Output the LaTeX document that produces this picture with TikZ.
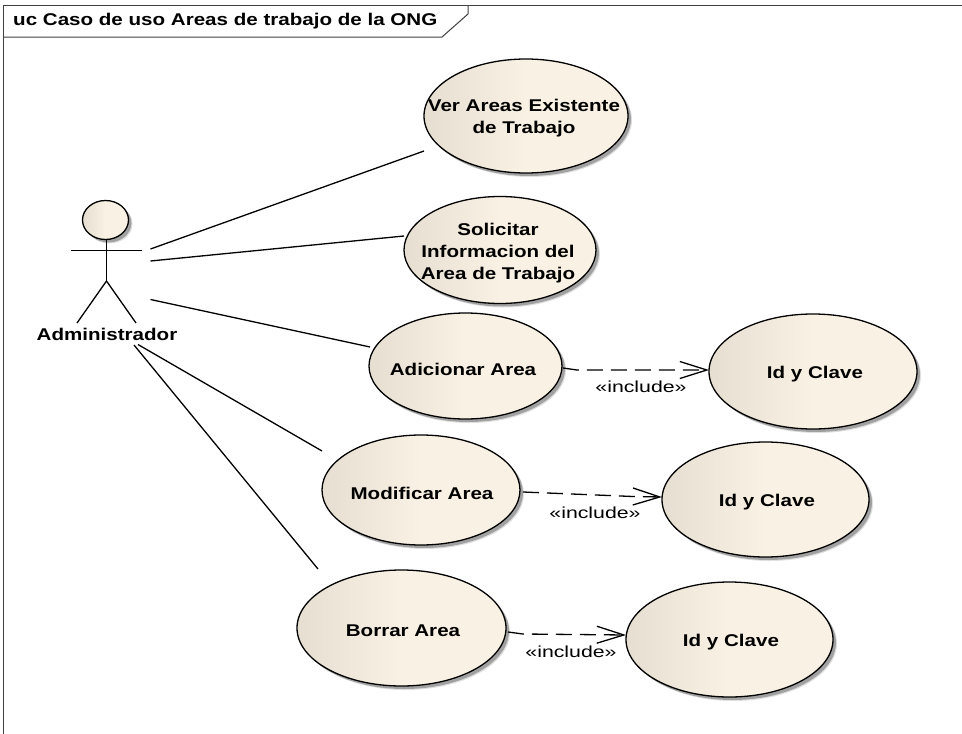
\documentclass[tikz,border=0pt]{standalone}
\usepackage{fontspec}
\usetikzlibrary{shapes.geometric,shadows,arrows.meta}
\newfontfamily\ucbold[FakeStretch=1.21]{Liberation Sans Bold}
\newfontfamily\ucreg[FakeStretch=1.33]{Liberation Sans}
\definecolor{ucl}{HTML}{E6DED0}
\definecolor{ucr}{HTML}{F9F1E3}
\tikzset{
  x=1pt,y=-1pt,
  shade2/.style={general shadow={shadow xshift=4pt,shadow yshift=-4pt,fill=black,opacity=.12},
                 general shadow={shadow xshift=3pt,shadow yshift=-3pt,fill=black,opacity=.28}},
  ucase/.style={ellipse,draw=black,line width=1.3pt,inner sep=0pt,outer sep=0pt,
     left color=ucl,right color=ucr,middle color=ucr,shade2},
  ucsize/.style 2 args={minimum width=#1pt,minimum height=#2pt},
  uctext/.style={font=\ucbold\fontsize{17}{22}\selectfont,align=center,inner sep=0pt,text=black},
  inctext/.style={font=\ucreg\fontsize{16}{20}\selectfont,inner sep=0pt,text=black},
  assoc/.style={line width=1.3pt,draw=black},
  incl/.style={line width=1.3pt,draw=black,dash pattern=on 16pt off 8pt,
     -{Straight Barb[length=27pt,width=17pt,line width=1.3pt]}},
  frameline/.style={line width=1pt,draw=black!75},
}
\begin{document}
\begin{tikzpicture}
\useasboundingbox (0,0) rectangle (962,734);
\fill[white] (0,0) rectangle (962,734);
% frame
\node[uctext,anchor=west] (title) at (13,21.5) {uc Caso de uso Areas de trabajo de la ONG};
\draw[frameline] (3,734) -- (3,5.5) -- (962,5.5);
\draw[frameline] (3,37) -- (442,37) -- (468,14) -- (468,5.5);
% actor
\node[ucase,ucsize={46}{39}] (head) at (105.5,220) {};
\coordinate (hip) at (106.5,281);
\coordinate (armL) at (71,250.5);
\coordinate (armR) at (142,250.5);
\coordinate (footL) at (77,323);
\coordinate (footR) at (136,323);
\draw[assoc] (head.south -| hip) -- (hip);
\draw[assoc] (armL) -- (armR);
\draw[assoc] (footL) -- (hip) -- (footR);
\node[uctext] (actor) at (107,334.5) {Administrador};
% use cases
\node[ucase,ucsize={204}{114}] (ver) at (526,116) {};
\node[ucase,ucsize={192}{107}] (sol) at (500,250) {};
\node[ucase,ucsize={193}{106}] (adi) at (465.5,366) {};
\node[ucase,ucsize={198}{110}] (mod) at (421,490) {};
\node[ucase,ucsize={209}{116}] (bor) at (401.5,628) {};
\node[ucase,ucsize={208}{115}] (id1) at (813,371.5) {};
\node[ucase,ucsize={207}{115}] (id2) at (765.5,499.5) {};
\node[ucase,ucsize={207}{115}] (id3) at (729.5,639.5) {};
% texts
\node[uctext] (verT) at (524,118) {Ver Areas Existente\\de Trabajo};
\node[uctext] (solT) at (498,253) {Solicitar\\Informacion del\\Area de Trabajo};
\node[uctext] (adiT) at (463,369) {Adicionar Area};
\node[uctext] (modT) at (422,493.5) {Modificar Area};
\node[uctext] (borT) at (403,630.5) {Borrar Area};
\node[uctext] (id1T) at (815,374.5) {Id y Clave};
\node[uctext] (id2T) at (767,502) {Id y Clave};
\node[uctext] (id3T) at (731,642.5) {Id y Clave};
% associations
\draw[assoc] (150.5,249) -- ([shift={(-102,35)}]ver.center);
\draw[assoc] (150.5,261) -- ([shift={(-96,-14)}]sol.center);
\draw[assoc] (150.5,299.5) -- ([shift={(-95.5,-19)}]adi.center);
\draw[assoc] (138,344.5) -- ([shift={(-99,-39)}]mod.center);
\draw[assoc] (134,345) -- ([shift={(-83.5,-59)}]bor.center);
% includes
\draw[incl] ([shift={(97.5,2)}]adi.center) -- ++(14,2) -- ([shift={(-104,-1.5)}]id1.center);
\draw[incl] ([shift={(102,2)}]mod.center) -- ++(110,4.5) -- ([shift={(-103.5,-2.5)}]id2.center);
\draw[incl] ([shift={(106.5,4)}]bor.center) -- ++(15,2) -- ([shift={(-103.5,-4.5)}]id3.center);
\node[inctext] (inc1) at (641,386.5) {«include»};
\node[inctext] (inc2) at (595,512.5) {«include»};
\node[inctext] (inc3) at (571,652) {«include»};
\end{tikzpicture}
\end{document}
